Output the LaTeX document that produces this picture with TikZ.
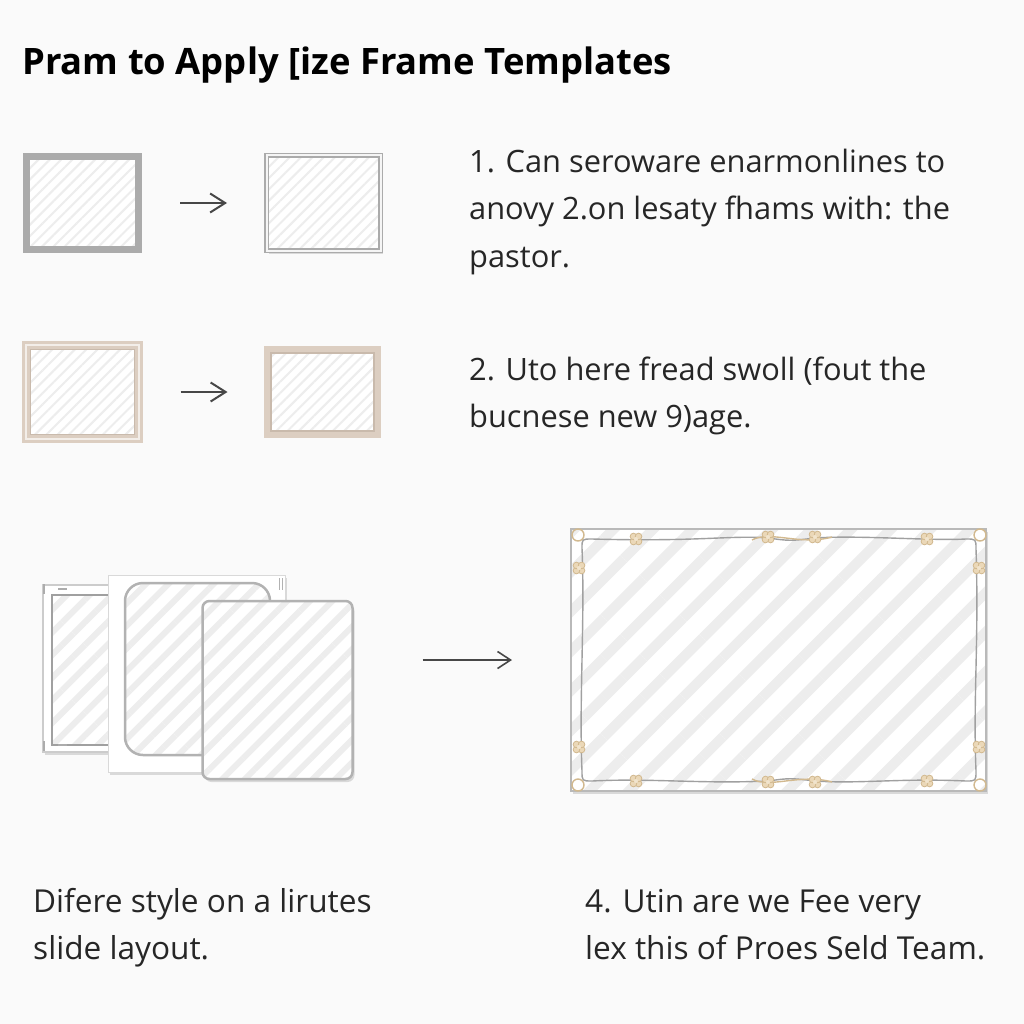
\documentclass[tikz,border=0pt]{standalone}
\usepackage{fontspec}
\setmainfont{Open Sans}
\usetikzlibrary{arrows.meta}
\usetikzlibrary{patterns.meta}
\usetikzlibrary{shadows}
\usetikzlibrary{positioning}
\usepackage{xcolor}

\definecolor{pagebg}{HTML}{FAFAFA}
\definecolor{framegray}{HTML}{ABABAB}
\definecolor{linegray}{HTML}{A0A0A0}
\definecolor{framebeige}{HTML}{DCCEC1}
\definecolor{beigeline}{HTML}{C9BAAC}
\definecolor{ornbeige}{HTML}{EBD8B8}
\definecolor{ornedge}{HTML}{D2B98F}
\definecolor{hatchgray}{HTML}{EDEDED}
\definecolor{textgray}{HTML}{262626}
\definecolor{arrowgray}{HTML}{474747}

\begin{document}
\begin{tikzpicture}[x=1pt,y=-1pt,
  framesh/.style={drop shadow={shadow xshift=2pt,shadow yshift=-3pt,opacity=0.13,fill=black}},
  tplfill/.style 2 args={preaction={fill=white},pattern={Lines[angle=45,distance=#1,line width=#2]},pattern color=hatchgray},
  tplbox/.style 2 args={rectangle,inner sep=0pt,outer sep=0pt,minimum width=#1,minimum height=#2},
  steparrow/.style={draw=arrowgray,line width=2pt,-{Straight Barb[length=15pt,width=19pt,line width=2pt]}},
  longarrow/.style={draw=arrowgray,line width=1.6pt,-{Straight Barb[length=13pt,width=17pt,line width=1.6pt]}},
  stepline/.style={anchor=base west,inner sep=0pt,text=textgray,font=\fontsize{30.8}{40}\selectfont},
  noteline/.style={anchor=base west,inner sep=0pt,text=textgray,font=\fontsize{31.6}{40}\selectfont},
  wavy/.style={draw=linegray,line width=1.4pt},
  orn/.style={draw=ornedge,fill=ornbeige,line width=0.8pt},
  ornline/.style={draw=ornedge,line width=1.4pt}]
\newcommand{\ornknot}[2]{
  \foreach \a in {45,135,225,315}
    \draw[orn] (#1,#2) ++(\a:3.6) circle (3.3);
  \fill[ornbeige!70] (#1,#2) circle (2);
}

\useasboundingbox (0,0) rectangle (1024,1024);
\fill[pagebg] (0,0) rectangle (1024,1024);

\node[anchor=base west,inner sep=0pt,text=black,font=\fontsize{36.4}{40}\selectfont\bfseries] (title) at (22,75) {Pram to Apply [ize Frame Templates};

% row 1
\node[tplbox={112pt}{92pt},framesh,tplfill={8pt}{2pt},draw=framegray,line width=7pt] (fa) at (82.5,203) {};
\node[tplbox={114pt}{95pt},framesh,tplfill={8pt}{2pt},draw=framegray,line width=1.6pt,double=gray!8,double distance=2pt] (fb) at (323.5,203) {};
\draw[steparrow,shorten <=41.5pt,shorten >=39.5pt] (fa) -- (fb);

% row 2
\node[tplbox={113pt}{94pt},framesh,tplfill={8pt}{2pt},draw=framebeige,line width=2.5pt,double=framebeige!35,double distance=2.5pt,
  path picture={\draw[beigeline,line width=1.5pt] ([shift={(4.2pt,4.2pt)}]path picture bounding box.south west) rectangle ([shift={(-4.2pt,-4.2pt)}]path picture bounding box.north east);}] (fc) at (82.5,392) {};
\node[tplbox={111pt}{86pt},framesh,tplfill={8pt}{2pt},draw=framebeige,line width=6pt,
  path picture={\draw[beigeline,line width=1.5pt] ([shift={(4pt,4pt)}]path picture bounding box.south west) rectangle ([shift={(-4pt,-4pt)}]path picture bounding box.north east);}] (fd) at (322.5,392) {};
\draw[steparrow,shorten <=41.5pt,shorten >=39.5pt] (fc) -- (fd);

\node[stepline] (s1a) at (469,173) {1. Can seroware enarmonlines to};
\node[stepline] (s1b) at (469,220) {anovy 2.on lesaty fhams with: the};
\node[stepline] (s1c) at (469,267) {pastor.};
\node[stepline] (s2a) at (469,380) {2. Uto here fread swoll (fout the};
\node[stepline] (s2b) at (469,427) {bucnese new 9)age.};

% stack of slide frames
\node[tplbox={107pt}{167pt},framesh,fill=white,draw=gray!40,line width=1.2pt] (bk) at (96.5,668.5) {};
\node[tplbox={90pt}{150pt},tplfill={16pt}{6pt},draw=linegray,line width=1.5pt] (bkin) at (97,670) {};
\draw[gray!65,line width=2pt] (44,584) -- (44,594);
\draw[gray!65,line width=2pt] (44,741) -- (44,751);
\draw[gray!65,line width=1.5pt] (58,589) -- (67,589);
\draw[gray!65,line width=1.5pt] (58,745) -- (67,745);

\node[tplbox={177pt}{197pt},framesh,fill=white,draw=gray!30,line width=1pt] (md) at (196.5,673.5) {};
\node[tplbox={145pt}{172pt},tplfill={16pt}{6pt},draw=gray!60,line width=2.5pt,rounded corners=18pt] (mdin) at (197.5,669) {};
\draw[gray!60,line width=1pt] (279,578) -- (279,590);
\draw[gray!60,line width=1pt] (282,578) -- (282,590);

\node[tplbox={150pt}{178pt},framesh,tplfill={16pt}{6pt},draw=gray!60,line width=2.5pt,rounded corners=7pt] (fr) at (277.5,690) {};

% ornate result frame
\node[tplbox={415pt}{262pt},framesh,tplfill={28pt}{10pt},draw=gray!55,line width=2pt] (big) at (778.5,660) {};
\draw[longarrow,shorten <=70pt,shorten >=59pt] (fr.east |- big.west) -- (big.west);

\draw[wavy] (582,548) .. controls (582,539) .. (592,539)
  .. controls (700,542) and (730,535) .. (768,538)
  .. controls (790,541) .. (815,538)
  .. controls (860,535) and (930,541) .. (966,539)
  .. controls (976,539) .. (976,549)
  .. controls (979,640) and (973,700) .. (976,771)
  .. controls (976,781) .. (966,781)
  .. controls (900,778) and (860,784) .. (815,781)
  .. controls (790,778) .. (768,781)
  .. controls (700,784) and (650,778) .. (592,781)
  .. controls (582,781) .. (582,771)
  .. controls (579,700) and (585,620) .. (582,548) -- cycle;

\draw[ornline] (752,540) .. controls (770,530) and (800,546) .. (832,537);
\draw[ornline] (752,779) .. controls (770,789) and (800,773) .. (832,782);
\foreach \cx/\cy in {578/535,980/535,578/785,980/785}
  \draw[ornline] (\cx,\cy) circle (6);

\ornknot{636}{539}
\ornknot{768}{537}
\ornknot{815}{537}
\ornknot{927}{539}
\ornknot{636}{781}
\ornknot{768}{782}
\ornknot{815}{782}
\ornknot{927}{781}
\ornknot{579}{568}
\ornknot{579}{747}
\ornknot{979}{568}
\ornknot{979}{747}

\node[noteline] (n3a) at (33,912) {Difere style on a lirutes};
\node[noteline] (n3b) at (33,959) {slide layout.};
\node[noteline] (n4a) at (585,912) {4. Utin are we Fee very};
\node[noteline] (n4b) at (585,959) {lex this of Proes Seld Team.};

\end{tikzpicture}
\end{document}
